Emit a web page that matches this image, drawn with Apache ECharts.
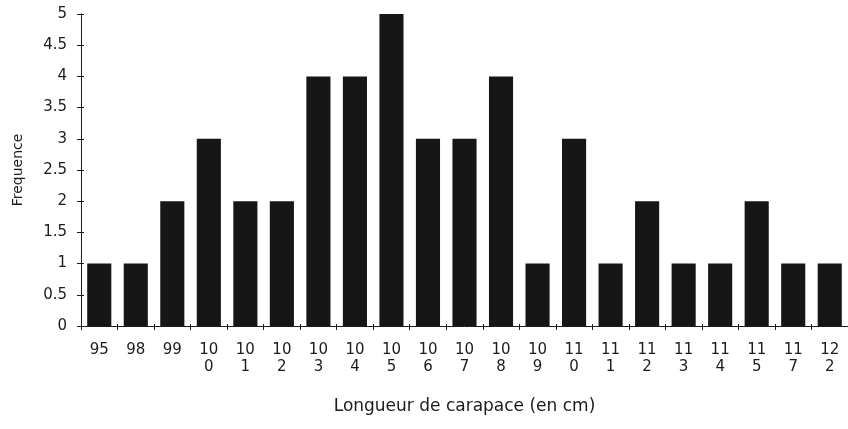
<!DOCTYPE html>
<html>
<head>
<meta charset="utf-8">
<script src="https://cdn.jsdelivr.net/npm/echarts@6/dist/echarts.min.js"></script>
<style>
  html, body { margin: 0; padding: 0; background: #fff; }
  #main { width: 848px; height: 429px; }
</style>
</head>
<body>
<div id="main"></div>
<script>
// longueurs (cm) et fréquences
const categories = ["95", "98", "99", "100", "101", "102", "103", "104", "105", "106", "107",
  "108", "109", "110", "111", "112", "113", "114", "115", "117", "122"];
const frequences = [1, 1, 2, 3, 2, 2, 4, 4, 5, 3, 3, 4, 1, 3, 1, 2, 1, 1, 2, 1, 1];
const yTicks = [0, 0.5, 1, 1.5, 2, 2.5, 3, 3.5, 4, 4.5, 5];

const font = "DejaVu Sans";
const ink = "#1c1c1c";

// les nombres a 3 chiffres sont coupes sur deux lignes
function splitLabel(v) {
  return v.length > 2 ? v.slice(0, 2) + "\n" + v.slice(2) : v;
}

var chart = echarts.init(document.getElementById("main"));

var option = {
  animation: false,
  grid: { left: 81, right: -6, top: 14, bottom: 103 },
  xAxis: [
    {
      type: "category",
      data: categories,
      axisLine: { lineStyle: { color: ink, width: 1 } },
      axisTick: { show: true, length: 4, lineStyle: { color: ink } },
      axisLabel: {
        formatter: splitLabel,
        fontFamily: font,
        fontSize: 15,
        lineHeight: 17,
        color: ink,
        margin: 16,
        verticalAlign: "top",
      },
      name: "Longueur de carapace (en cm)",
      nameLocation: "middle",
      nameGap: 72,
      nameTextStyle: { fontFamily: font, fontSize: 17, color: ink, verticalAlign: "top" },
    },
    {
      type: "category",
      data: categories,
      position: "bottom",
      axisLine: { show: false },
      axisTick: { show: true, inside: true, length: 2, lineStyle: { color: ink } },
      axisLabel: { show: false },
    },
  ],
  yAxis: [
    {
      type: "value",
      min: 0,
      max: 5,
      interval: 0.5,
      splitLine: { show: false },
      axisLine: { show: true, lineStyle: { color: ink, width: 1 } },
      axisTick: { show: true, length: 4, lineStyle: { color: ink } },
      axisLabel: {
        fontFamily: font,
        fontSize: 15,
        color: ink,
        margin: 14,
        formatter: function (v) { return yTicks.indexOf(v) >= 0 ? String(v) : ""; },
      },
      name: "Frequence",
      nameLocation: "middle",
      nameGap: 56,
      nameTextStyle: { fontFamily: font, fontSize: 14, color: ink },
    },
    {
      type: "value",
      min: 0,
      max: 5,
      interval: 0.5,
      position: "left",
      splitLine: { show: false },
      axisLine: { show: false },
      axisTick: { show: true, inside: true, length: 3, lineStyle: { color: ink } },
      axisLabel: { show: false },
    },
  ],
  series: [
    {
      type: "bar",
      data: frequences,
      barCategoryGap: "34%",
      itemStyle: { color: "#161616" },
    },
  ],
};

chart.setOption(option);
</script>
</body>
</html>
